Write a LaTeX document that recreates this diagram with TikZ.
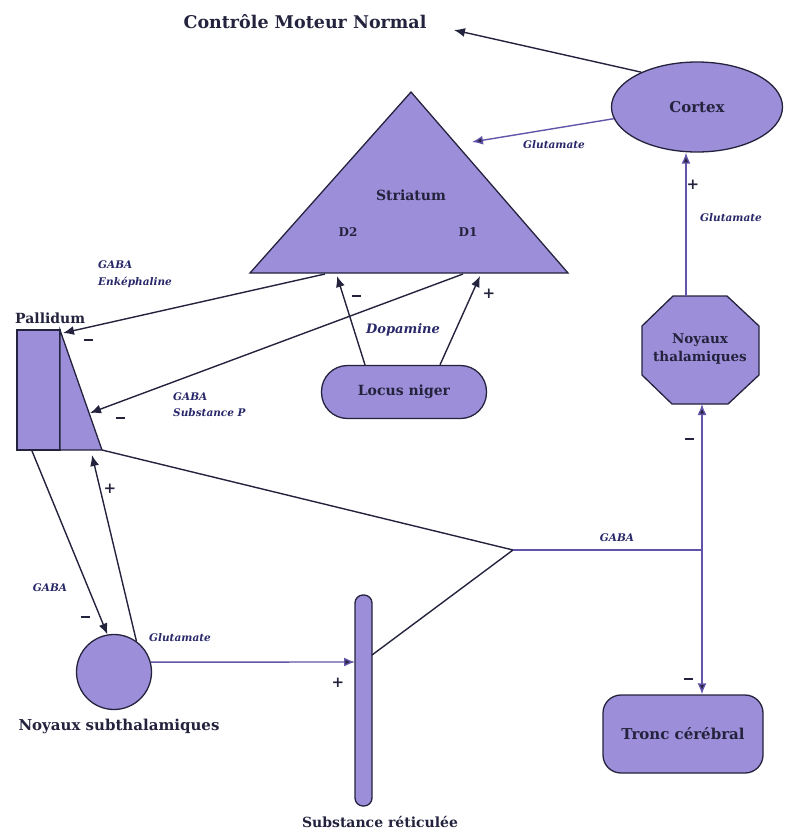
\documentclass[tikz,border=0pt]{standalone}
\usepackage{fontspec}
\setmainfont{DejaVu Serif}
\usetikzlibrary{arrows.meta,shapes.geometric}
\definecolor{lav}{RGB}{156,142,216}
\definecolor{ink}{RGB}{35,35,62}
\definecolor{pline}{RGB}{98,84,168}
\definecolor{ltxt}{RGB}{40,40,105}
\newcommand{\mneg}{\rule[3pt]{9pt}{2pt}}
\begin{document}
\begin{tikzpicture}[x=1pt,y=-1pt,
  shapebox/.style={draw=ink, line width=1.3pt, fill=lav},
  arr/.style={draw=ink, line width=1.4pt, -{Latex[length=11pt,width=9pt]}},
  parr/.style={draw=pline, line width=1.4pt, -{Latex[length=11pt,width=9pt,fill=ink]}},
  conn/.style={draw=ink, line width=1.4pt},
  pconn/.style={draw=pline, line width=1.4pt},
  lbl/.style={font=\bfseries\fontsize{14}{16}\selectfont, text=ink},
  ital/.style={font=\bfseries\itshape\fontsize{10.5}{12}\selectfont, text=ltxt, inner sep=0pt},
  sign/.style={font=\bfseries\fontsize{15}{15}\selectfont, text=ink, inner sep=0pt}]
\useasboundingbox (0,0) rectangle (790,833);

% title
\node[font=\bfseries\fontsize{17.5}{20}\selectfont, text=ink] (title) at (305,22) {Contrôle Moteur Normal};

% cortex
\node[shapebox, ellipse, minimum width=171pt, minimum height=90pt, lbl, font=\bfseries\fontsize{15}{17}\selectfont] (cortex) at (697,107) {Cortex};

% striatum triangle
\draw[shapebox] (411,92) coordinate (sA) -- (568,273) coordinate (sR) -- (250,273) coordinate (sL) -- cycle;
\node[lbl] (striatum) at (411,195) {Striatum};
\node[lbl, font=\bfseries\fontsize{12}{14}\selectfont] (d2) at (348,232) {D2};
\node[lbl, font=\bfseries\fontsize{12}{14}\selectfont] (d1) at (468,232) {D1};

% pallidum
\draw[shapebox] (17,330) rectangle (60,450);
\draw[shapebox] (60,330) -- (102,450) -- (60,450) -- cycle;
\node[lbl, anchor=west, inner sep=0pt] (pallidum) at (15,318) {Pallidum};
\coordinate (pTop) at (63,333);
\coordinate (pHyp) at (90,413);
\coordinate (pTri) at (92,455);
\coordinate (pBR) at (102,450);
\coordinate (pBot) at (32,451);

% locus niger
\node[shapebox, rounded corners=26pt, minimum width=165pt, minimum height=53pt, lbl] (ln) at (404,392) {Locus niger};

% thalamic octagon
\draw[shapebox] (673,296) -- (727,296) -- (759,326) -- (759,375) -- (728,404) -- (672,404) -- (642,375) -- (642,326) -- cycle;
\node[lbl, align=center, font=\bfseries\fontsize{13.5}{18}\selectfont] (thal) at (700,349) {Noyaux\\thalamiques};
\coordinate (thTop) at (686,296);
\coordinate (thBot) at (702,404);

% tronc cerebral
\node[shapebox, rounded corners=18pt, minimum width=160pt, minimum height=78pt, lbl, font=\bfseries\fontsize{15}{17}\selectfont] (tc) at (683,734) {Tronc cérébral};

% substance reticulee
\draw[shapebox, rounded corners=8pt] (355,595) rectangle (372,806);
\node[lbl] (srl) at (380,822) {Substance réticulée};
\coordinate (srL) at (355,662);
\coordinate (srR) at (372,655);

% subthalamic nucleus
\node[shapebox, circle, minimum size=75pt, inner sep=0pt] (stn) at (114,672) {};
\node[lbl, font=\bfseries\fontsize{15}{17}\selectfont] (stnl) at (119,726) {Noyaux subthalamiques};

% junctions
\coordinate (J) at (513,550);
\coordinate (K) at (702,550);
\coordinate (stA) at (325,274);
\coordinate (stB) at (463,274);
\coordinate (stC) at (472,142);
\coordinate (dpL) at (337,276);
\coordinate (dpR) at (480,276);

% connectors
\draw[arr] (cortex.148) -- ([xshift=24pt,yshift=-8pt]title.east);
\draw[parr] (cortex.188) -- (stC);
\draw[parr] (thTop) -- (cortex.south -| thTop);
\draw[arr] (stA) -- (pTop);
\draw[arr] (stB) -- (pHyp);
\draw[arr] ([xshift=-39pt]ln.north) -- (dpL);
\draw[arr] ([xshift=36pt]ln.north) -- (dpR);
\draw[arr] (pBot) -- (stn.100);
\draw[arr] (stn.54) -- (pTri);
\draw[parr] (stn.15) -- (srL);
\draw[conn] (pBR) -- (J) -- (srR);
\draw[pconn] (J) -- (K);
\draw[parr] (K) -- (thBot);
\draw[parr] (K) -- (K |- tc.north);

% signs
\node[sign] at (88,341) {\mneg};
\node[sign] at (120,419) {\mneg};
\node[sign] at (356,297) {\mneg};
\node[sign] at (489,294) {+};
\node[sign] at (693,185) {+};
\node[sign] at (689,440) {\mneg};
\node[sign] at (688,680) {\mneg};
\node[sign] at (110,489) {+};
\node[sign] at (85,618) {\mneg};
\node[sign] at (338,683) {+};

% italic labels
\node[ital, anchor=west] at (98,265) {GABA};
\node[ital, anchor=west] at (98,282) {Enképhaline};
\node[ital, anchor=west] at (173,397) {GABA};
\node[ital, anchor=west] at (173,413) {Substance P};
\node[ital] at (554,145) {Glutamate};
\node[ital] at (731,218) {Glutamate};
\node[ital, font=\bfseries\itshape\fontsize{13}{15}\selectfont] at (403,330) {Dopamine};
\node[ital] at (50,588) {GABA};
\node[ital] at (180,638) {Glutamate};
\node[ital] at (617,538) {GABA};
\end{tikzpicture}
\end{document}
